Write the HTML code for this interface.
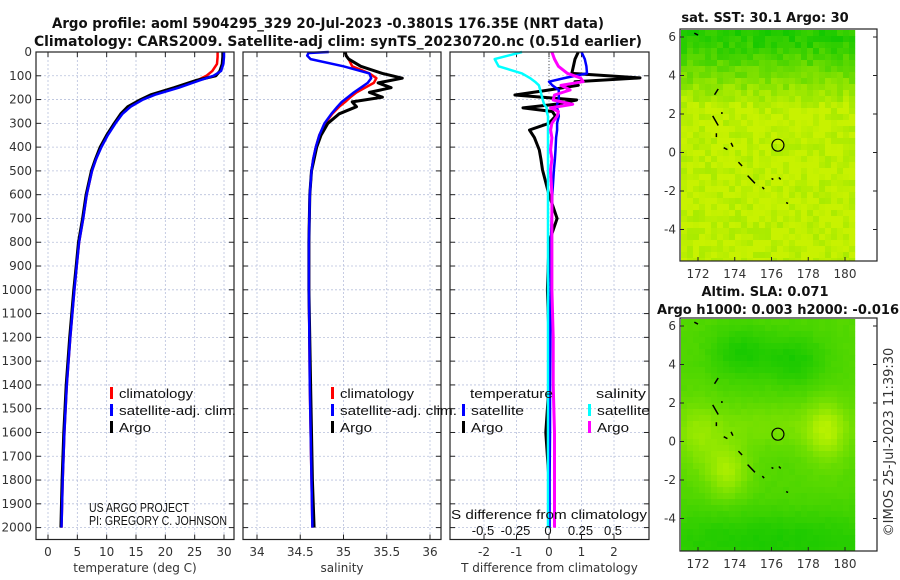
<!DOCTYPE html>
<html><head><meta charset="utf-8">
<style>
html,body{margin:0;padding:0;background:#fff;}
svg{display:block;font-family:"DejaVu Sans","Liberation Sans",sans-serif;}
.tk{font-size:12px;fill:#333;}
.lg{font-family:"Liberation Sans",sans-serif;font-size:13px;fill:#111;}
.ttl{font-size:13.8px;font-weight:bold;fill:#111;}
.mt{font-size:13px;font-weight:bold;fill:#111;}
</style></head>
<body>
<svg id="chart" width="900" height="580" viewBox="0 0 900 580" xmlns="http://www.w3.org/2000/svg">
<text class="ttl" x="328" y="28" text-anchor="middle" textLength="552" lengthAdjust="spacingAndGlyphs">Argo profile: aoml 5904295_329 20-Jul-2023 -0.3801S 176.35E (NRT data)</text>
<text class="ttl" x="338" y="46" text-anchor="middle" textLength="608" lengthAdjust="spacingAndGlyphs">Climatology: CARS2009. Satellite-adj clim: synTS_20230720.nc (0.51d earlier)</text>
<g id="panels"></g>
<text class="mt" x="765" y="22" text-anchor="middle">sat. SST: 30.1 Argo: 30</text>
<text class="mt" x="765" y="296" text-anchor="middle">Altim. SLA: 0.071</text>
<text class="mt" x="778" y="314" text-anchor="middle" textLength="242" lengthAdjust="spacingAndGlyphs">Argo h1000: 0.003 h2000: -0.016</text>
<text x="893" y="442" font-size="13" fill="#333" text-anchor="middle" transform="rotate(-90 893 442)">©IMOS 25-Jul-2023 11:39:30</text>
</svg>
<script>
// ---- data ----
const depthT=[0,20,50,80,100,120,150,180,200,230,260,300,350,400,450,500,600,700,800,900,1000,1200,1400,1600,1800,2000];
const tempArgo=[29.8,29.8,29.7,29.3,28.6,25.2,21.5,17.5,15.8,13.6,12.4,11.3,10.0,8.9,8.1,7.4,6.5,5.9,5.2,4.8,4.4,3.7,3.1,2.7,2.4,2.2];
const tempClim=[28.9,28.9,28.8,28.0,27.0,25.4,22.0,18.0,16.0,14.0,12.6,11.4,10.1,9.0,8.2,7.5,6.6,6.0,5.3,4.9,4.5,3.8,3.2,2.8,2.5,2.3];
const tempSat=[30.0,30.0,29.9,29.5,28.2,25.8,22.3,18.2,16.2,14.1,12.7,11.5,10.2,9.1,8.2,7.5,6.6,6.0,5.3,4.9,4.5,3.8,3.2,2.8,2.5,2.3];
const depthS=[0,15,30,60,90,110,130,150,170,190,210,230,260,300,350,400,450,500,600,800,1000,1400,1800,2000];
const salArgo=[35.02,35.03,35.06,35.2,35.45,35.68,35.4,35.55,35.3,35.45,35.1,35.15,34.95,34.82,34.74,34.69,34.66,34.63,34.61,34.6,34.6,34.62,34.64,34.66];
const salClim=[35.02,35.03,35.06,35.1,35.3,35.38,35.35,35.25,35.15,35.08,35.02,34.95,34.87,34.79,34.72,34.68,34.65,34.63,34.61,34.6,34.6,34.61,34.63,34.64];
const salSat=[34.6,34.58,34.62,35.0,35.3,35.32,35.28,35.2,35.12,35.05,34.98,34.93,34.86,34.78,34.72,34.68,34.65,34.63,34.61,34.6,34.6,34.61,34.63,34.64];
const depthD=[0,30,60,90,109,125,140,160,181,202,220,235,250,270,300,328,360,412,450,496,600,700,800,1000,1200,1400,1600,1800,2000];
const tdiffArgo=[0.9,0.8,0.75,0.7,2.8,0.8,0.9,0.0,-1.05,0.85,0.2,-0.8,0.1,0.2,0.0,-0.6,-0.45,-0.3,-0.25,-0.2,0.0,0.25,0.0,-0.05,0.0,0.0,-0.1,0.0,0.0];
const tdiffSat=[1.0,1.1,1.15,1.17,0.5,0.0,0.1,0.3,0.3,0.3,0.25,0.25,0.28,0.3,0.25,0.25,0.22,0.2,0.18,0.15,0.1,0.08,0.06,0.05,0.04,0.03,0.03,0.02,0.02];
const sdiffArgo=[0.03,0.05,0.08,0.15,0.25,0.27,0.1,0.17,0.05,0.04,0.19,0.02,0.08,0.07,0.03,0.02,0.03,0.02,0.03,0.02,0.03,0.03,0.03,0.03,0.04,0.04,0.05,0.05,0.05];
const sdiffSat=[-0.2,-0.41,-0.38,-0.2,-0.14,-0.1,-0.07,-0.06,-0.05,-0.04,-0.03,-0.01,-0.01,0,0,0,0,0,0,0,0,0,0,0,0,0,0,0,0];
const depthTicks=[0,100,200,300,400,500,600,700,800,900,1000,1100,1200,1300,1400,1500,1600,1700,1800,1900,2000];
const tTicks=[0,5,10,15,20,25,30];
const sTicks=[34,34.5,35,35.5,36];
const tdTicks=[-2,-1,0,1,2];
const sdTicks=[-0.5,-0.25,0,0.25,0.5];
const sdTickLabels=["-0.5","-0.25","0","0.25","0.5"];
const lonTicks=[172,174,176,178,180];
const latTicks=[6,4,2,0,-2,-4];
const argoLon=176.35, argoLat=0.38;
// ---- scales ----
const yD=d=>52+d*0.2378;
const xT=v=>48+v*5.867;
const xS=v=>257+(v-34)*86.5;
const xTd=v=>549+v*32.5;
const xSd=v=>548+v*130;
const NS="http://www.w3.org/2000/svg";
const root=document.getElementById('panels');
function el(tag,attrs,parent){const e=document.createElementNS(NS,tag);for(const k in attrs)e.setAttribute(k,attrs[k]);(parent||root).appendChild(e);return e;}
function line(xs,ds,fx,color,w,name){
  const p=el('polyline',{points:xs.map((v,i)=>fx(v).toFixed(1)+','+yD(ds[i]).toFixed(1)).join(' '),fill:'none',stroke:color,'stroke-width':w,'stroke-linejoin':'round'});
  
  
}
function panel(x0,x1,xt,fx,labels,xtitle,name,ylab){
  const g=el('g',{});
  
  
  el('rect',{x:x0,y:52,width:x1-x0,height:487.5,fill:'#fff'},g);
  depthTicks.forEach(d=>{el('line',{x1:x0,x2:x1,y1:yD(d),y2:yD(d),stroke:'#b8c0dc','stroke-width':0.8,'stroke-dasharray':'2,2'},g);
    el('line',{x1:x0,x2:x0+5,y1:yD(d),y2:yD(d),stroke:'#222'},g);el('line',{x1:x1-5,x2:x1,y1:yD(d),y2:yD(d),stroke:'#222'},g);
    if(ylab){const t=el('text',{x:x0-4,y:yD(d)+4,'text-anchor':'end',class:'tk'},g);t.textContent=d;
      
      }});
  xt.forEach((v,i)=>{el('line',{x1:fx(v),x2:fx(v),y1:52,y2:539.5,stroke:'#b8c0dc','stroke-width':0.8,'stroke-dasharray':'2,2'},g);
    el('line',{x1:fx(v),x2:fx(v),y1:534.5,y2:539.5,stroke:'#222'},g);el('line',{x1:fx(v),x2:fx(v),y1:52,y2:57,stroke:'#222'},g);
    const t=el('text',{x:fx(v),y:556,'text-anchor':'middle',class:'tk'},g);t.textContent=labels[i];
    
    });
  const t=el('text',{x:(x0+x1)/2,y:572,'text-anchor':'middle',class:'tk','font-size':'13'},g);t.textContent=xtitle;
  
  
  return g;
}
panel(36,234,tTicks,xT,tTicks,'temperature (deg C)','temperature-panel',true);
line(tempClim,depthT,xT,'#f00',2.5,'temp-climatology-line');
line(tempArgo,depthT,xT,'#000',3,'temp-argo-line');
line(tempSat,depthT,xT,'#00f',2.5,'temp-satellite-line');
panel(243,441,sTicks,xS,sTicks,'salinity','salinity-panel',false);
line(salClim,depthS,xS,'#f00',2.5,'sal-climatology-line');
line(salArgo,depthS,xS,'#000',3,'sal-argo-line');
line(salSat,depthS,xS,'#00f',2.5,'sal-satellite-line');
el('line',{x1:xS(34.6),x2:xS(34.83),y1:53,y2:52,stroke:'#00f','stroke-width':2.5});
panel(450,649,tdTicks,xTd,tdTicks,'T difference from climatology','difference-panel',false);
el('line',{x1:xTd(0),x2:xTd(0),y1:52,y2:yD(150),stroke:'#555','stroke-dasharray':'1,2'});
line(tdiffArgo,depthD,xTd,'#000',3,'tdiff-argo-line');
line(tdiffSat,depthD,xTd,'#00f',2.5,'tdiff-satellite-line');
line(sdiffSat,depthD,xSd,'#0ff',2.5,'sdiff-satellite-line');
line(sdiffArgo,depthD,xSd,'#f0f',3,'sdiff-argo-line');
[[36,234],[243,441],[450,649]].forEach(([a,b])=>el('rect',{x:a,y:52,width:b-a,height:487.5,fill:'none',stroke:'#222','stroke-width':1.2}));
{const t=el('text',{x:549,y:519,'text-anchor':'middle',class:'lg','font-size':'15',textLength:'196',lengthAdjust:'spacingAndGlyphs'});t.textContent='S difference from climatology';

}
sdTicks.forEach((v,i)=>{const t=el('text',{x:xSd(v),y:535,'text-anchor':'middle',class:'lg','font-size':'14'});t.textContent=sdTickLabels[i];

});
function leg(x,y,c,txt,name,len){el('rect',{x:x,y:y-9,width:3,height:12,fill:c});const a={x:x+9,y:y+2,class:'lg','font-size':'14'};if(len){a.textLength=len;a.lengthAdjust='spacingAndGlyphs';}const t=el('text',a);t.textContent=txt;

}
leg(110,396,'#f00','climatology','legend-climatology',74);leg(110,413,'#00f','satellite-adj. clim.','legend-satellite',117);leg(110,430,'#000','Argo','legend-argo',32);
leg(331,396,'#f00','climatology','legend-climatology',74);leg(331,413,'#00f','satellite-adj. clim.','legend-satellite',117);leg(331,430,'#000','Argo','legend-argo',32);
{const t=el('text',{x:470,y:398,class:'lg','font-size':'14',textLength:'83',lengthAdjust:'spacingAndGlyphs'});t.textContent='temperature';}
{const t=el('text',{x:596,y:398,class:'lg','font-size':'14',textLength:'50',lengthAdjust:'spacingAndGlyphs'});t.textContent='salinity';}
leg(462,413,'#00f','satellite','legend-t-satellite',53);leg(462,430,'#000','Argo','legend-t-argo',32);
leg(588,413,'#0ff','satellite','legend-s-satellite',53);leg(588,430,'#f0f','Argo','legend-s-argo',32);
{const t=el('text',{x:89,y:512,class:'lg','font-size':'12',textLength:'100',lengthAdjust:'spacingAndGlyphs'});t.textContent='US ARGO PROJECT';}
{const t=el('text',{x:89,y:525,class:'lg','font-size':'12',textLength:'138',lengthAdjust:'spacingAndGlyphs'});t.textContent='PI: GREGORY C. JOHNSON';}
// ---- maps ----
function hash(i,j){let h=(i*374761393+j*668265263)|0;h=(h^(h>>>13))*1274126177|0;return ((h^(h>>>16))>>>0)/4294967296;}
function lerpC(a,b,t){return 'rgb('+a.map((v,k)=>Math.round(v+(b[k]-v)*t)).join(',')+')';}
function map(top,bottom,yTopLat,name,colorFn){
  const g=el('g',{});
  
  
  const lx=lon=>698+(lon-172)*18.375;
  const pxPerLat=19.25;
  const lyy=lat=>(top+(yTopLat===6?8:9))+(6-lat)*pxPerLat;
  for(let x=681;x<851;x+=6)for(let y=top+1;y<bottom;y+=6){
    const lon=172+(x+3-698)/18.375, lat=6-(y+3-(top+(yTopLat===6?8:9)))/pxPerLat;
    el('rect',{x:x,y:y,width:6.2,height:Math.min(6.2,bottom-y),fill:colorFn(lon,lat,hash(x,y))},g);}
  el('rect',{x:680,y:top,width:197,height:bottom-top,fill:'none',stroke:'#222','stroke-width':1.2},g);
  lonTicks.forEach(v=>{el('line',{x1:lx(v),x2:lx(v),y1:bottom-4,y2:bottom,stroke:'#222'},g);
    const t=el('text',{x:lx(v),y:bottom+17,'text-anchor':'middle',class:'tk'},g);t.textContent=v;
    
    });
  latTicks.forEach(v=>{el('line',{x1:680,x2:684,y1:lyy(v),y2:lyy(v),stroke:'#222'},g);el('line',{x1:873,x2:877,y1:lyy(v),y2:lyy(v),stroke:'#222'},g);
    const t=el('text',{x:676,y:lyy(v)+4,'text-anchor':'end',class:'tk'},g);t.textContent=v;
    
    });
  const isl=[[172.9,3.0,173.1,3.3],[172.8,1.9,173.1,1.4],[173.3,2.0,173.3,2.1],[173.0,1.0,173.0,0.8],[173.4,0.25,173.6,0.15],[173.8,0.5,173.9,0.3],[174.2,-0.5,174.4,-0.7],[174.7,-1.2,175.1,-1.6],[175.5,-1.8,175.6,-1.9],[176.0,-1.35,176.1,-1.4],[176.4,-1.3,176.5,-1.4],[176.8,-2.6,176.9,-2.65],[171.8,6.2,172.0,6.1]];
  isl.forEach(s=>el('line',{x1:lx(s[0]),y1:lyy(s[1]),x2:lx(s[2]),y2:lyy(s[3]),stroke:'#000','stroke-width':1.5},g));
  const c=el('circle',{cx:lx(argoLon),cy:lyy(argoLat),r:6,fill:'none',stroke:'#000','stroke-width':1.2},g);
  
  
}
const G=[20,200,0],Y=[200,242,0];
map(29,261,6,'sst-map',(lon,lat,r)=>{let t=Math.max(0,Math.min(1,(5.8-lat)/3.5));t=t*0.85+0.1+ (r-0.5)*0.25; if(lat<-1.5)t+= (r>0.8?0.08:0);return lerpC(G,Y,Math.max(0,Math.min(1,t)));});
function gs(lon,lat,cx,cy,sx,sy){return Math.exp(-((lon-cx)**2/(2*sx*sx)+(lat-cy)**2/(2*sy*sy)));}
map(318,551,6,'sla-map',(lon,lat,r)=>{let t=0.35+0.45*gs(lon,lat,179,0.5,0.8,1.1)+0.45*gs(lon,lat,173.6,-1.5,0.8,1.0)+0.3*gs(lon,lat,172,0.3,0.9,1.2)+0.2*gs(lon,lat,176,0.8,3,0.8)
 -0.3*gs(lon,lat,174.3,4.6,1.2,1.0)-0.3*gs(lon,lat,177.3,4.2,1.2,1.0)-0.3*gs(lon,lat,176,-5.2,6,1.2)+(r-0.5)*0.04;
 return lerpC([20,200,0],[200,245,0],Math.max(0,Math.min(1,t)));});
</script>
</body></html>
